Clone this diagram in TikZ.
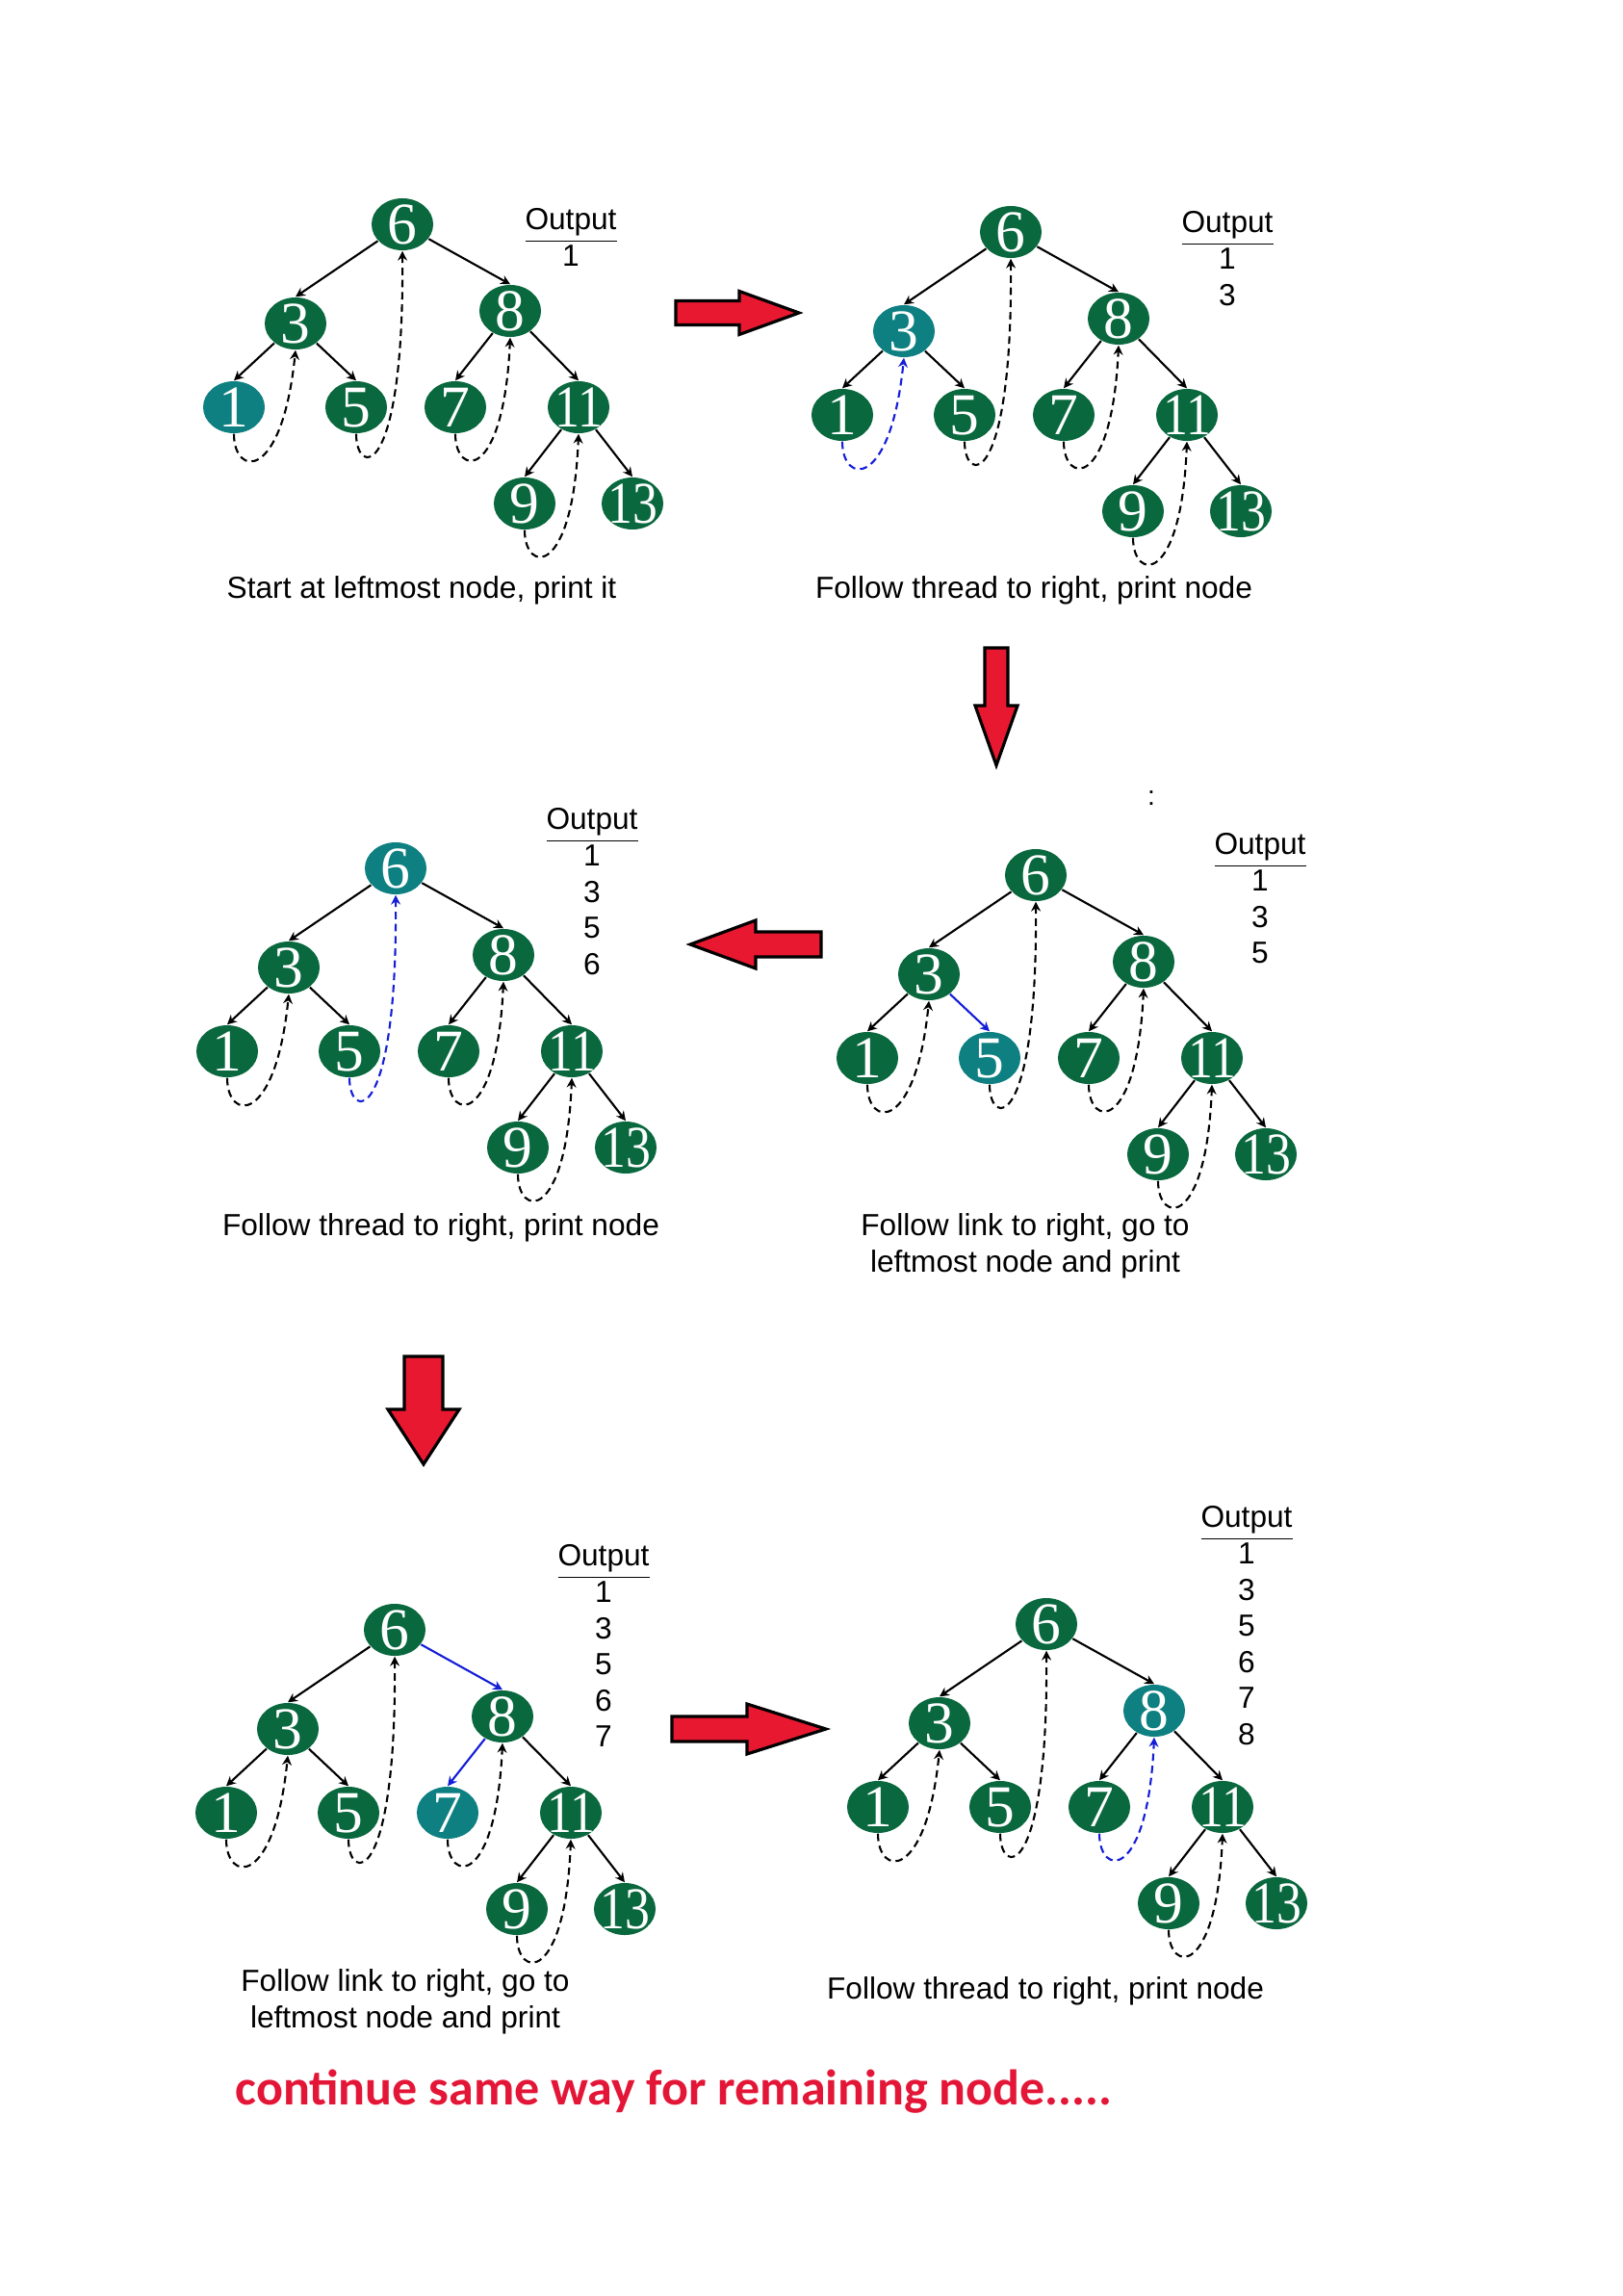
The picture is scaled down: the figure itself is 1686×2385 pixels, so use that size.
\documentclass[tikz,border=0pt]{standalone}
\usepackage{fontspec}
\usepackage{graphicx}
\setmainfont{Liberation Sans}
\newfontfamily\digitfont{Liberation Serif}
\newfontfamily\notefont{Carlito}
\usetikzlibrary{shapes.geometric,arrows.meta,calc}

\definecolor{treegreen}{RGB}{10,104,62}
\definecolor{visitteal}{RGB}{14,128,130}
\definecolor{pathblue}{RGB}{20,30,215}
\definecolor{arrowred}{RGB}{232,24,48}
\definecolor{notered}{RGB}{228,22,55}

\tikzset{
  tn/.style={ellipse, fill=treegreen, text=white, inner sep=0pt,
    minimum width=0.64cm, minimum height=0.54cm,
    font=\digitfont\fontsize{17.5}{17.5}\selectfont},
  cur/.style={fill=visitteal},
  link/.style={-{Stealth[length=2.8pt,width=2.8pt]}, line width=0.6pt},
  thread/.style={-{Stealth[length=2.8pt,width=2.8pt]}, line width=0.6pt,
    dash pattern=on 2.2pt off 1.4pt},
  hot/.style={draw=pathblue},
  outlist/.style={anchor=north, align=center, inner sep=0pt,
    font=\fontsize{9}{10.7}\selectfont},
  caption/.style={align=center, inner sep=0pt, font=\fontsize{9}{10.8}\selectfont},
  bigarrow/.style={fill=arrowred, draw=black, line width=0.9pt, line join=miter},
  % hooks for each panel, empty unless a panel sets them
  n1/.style={}, n3/.style={}, n5/.style={}, n6/.style={}, n7/.style={},
  n8/.style={}, n9/.style={}, n11/.style={}, n13/.style={},
  to1/.style={}, to3/.style={}, to5/.style={}, to7/.style={}, to8/.style={},
  to9/.style={}, to11/.style={}, to13/.style={},
  th1/.style={}, th5/.style={}, th7/.style={}, th9/.style={}
}

% key text takes no room, so every ellipse keeps the same size
\newcommand{\keytext}[1]{\makebox[0pt]{\raisebox{-5.8pt}[0pt][0pt]{#1}}}
\newcommand{\twokey}[1]{\keytext{\scalebox{0.84}[1]{#1}}}

% dashed thread from a leaf back up to its successor
\newcommand{\thread}[3]{%
  \draw[thread,#1] (#2.south) .. controls ($(#2.south)+(0,-45)$) and ($(#2.south)+(50,-50)$) .. (#3.south);}

% the threaded tree, nodes named <prefix>-<key>
\newcommand{\bstree}[1]{%
  \node[tn,n6]  (#1-6)  at (0,0)       {\keytext{6}};
  \node[tn,n3]  (#1-3)  at (-111,-103) {\keytext{3}};
  \node[tn,n8]  (#1-8)  at (112,-90)   {\keytext{8}};
  \node[tn,n1]  (#1-1)  at (-175,-190) {\keytext{1}};
  \node[tn,n5]  (#1-5)  at (-48,-190)  {\keytext{5}};
  \node[tn,n7]  (#1-7)  at (55,-190)   {\keytext{7}};
  \node[tn,n11] (#1-11) at (183,-190)  {\twokey{11}};
  \node[tn,n9]  (#1-9)  at (127,-290)  {\keytext{9}};
  \node[tn,n13] (#1-13) at (239,-290)  {\twokey{13}};
  \draw[link,to3]  (#1-6) -- (#1-3.north);
  \draw[link,to8]  (#1-6) -- (#1-8.north);
  \draw[link,to1]  (#1-3) -- (#1-1.north);
  \draw[link,to5]  (#1-3) -- (#1-5.north);
  \draw[link,to7]  (#1-8) -- (#1-7.north);
  \draw[link,to11] (#1-8) -- (#1-11.north);
  \draw[link,to9]  (#1-11) -- (#1-9.north);
  \draw[link,to13] (#1-11) -- (#1-13.north);
  \thread{th1}{#1-1}{#1-3}
  \thread{th5}{#1-5}{#1-6}
  \thread{th7}{#1-7}{#1-8}
  \thread{th9}{#1-9}{#1-11}
}

% block arrow: tail x, tail y, angle, length, half shaft, half head, head length
\newcommand{\bigarrow}[7]{%
  \draw[bigarrow, shift={(#1,#2)}, rotate=#3]
    (0,#5) -- ({#4-#7},#5) -- ({#4-#7},#6) -- (#4,0) -- ({#4-#7},-#6)
    -- ({#4-#7},-#5) -- (0,-#5) -- cycle;}

\begin{document}
\begin{tikzpicture}[x=0.01cm, y=0.01cm]
  \fill[white] (0,0) rectangle (1686,-2385);
  \useasboundingbox (0,0) rectangle (1686,-2385);

  % step 1
  \begin{scope}[shift={(418,-233)}, n1/.style={cur}]
    \bstree{a}
  \end{scope}
  \node[outlist] (outa) at (593,-216) {\underline{Output}\\1};
  \node[caption] (capa) at (438,-613) {Start at leftmost node, print it};

  % step 2
  \begin{scope}[shift={(1050,-241)}, n3/.style={cur}, th1/.style={hot}]
    \bstree{b}
  \end{scope}
  \node[outlist] (outb) at (1275,-219) {\underline{Output}\\1\\3};
  \node[caption] (capb) at (1074,-613) {Follow thread to right, print node};

  % step 3
  \begin{scope}[shift={(1076,-909)}, n5/.style={cur}, to5/.style={hot}]
    \bstree{c}
  \end{scope}
  \node[outlist] (outc) at (1309,-865) {\underline{Output}\\1\\3\\5};
  \node[caption] (capc) at (1065,-1294) {Follow link to right, go to\\leftmost node and print};
  \node[font=\fontsize{8}{8}\selectfont] (mark) at (1196,-829) {:};

  % step 4
  \begin{scope}[shift={(411,-902)}, n6/.style={cur}, th5/.style={hot}]
    \bstree{d}
  \end{scope}
  \node[outlist] (outd) at (615,-839) {\underline{Output}\\1\\3\\5\\6};
  \node[caption] (capd) at (458,-1275) {Follow thread to right, print node};

  % step 5
  \begin{scope}[shift={(410,-1693)}, n7/.style={cur}, to8/.style={hot}, to7/.style={hot}]
    \bstree{e}
  \end{scope}
  \node[outlist] (oute) at (627,-1604) {\underline{Output}\\1\\3\\5\\6\\7};
  \node[caption] (cape) at (421,-2079) {Follow link to right, go to\\leftmost node and print};

  % step 6
  \begin{scope}[shift={(1087,-1687)}, n8/.style={cur}, th7/.style={hot}]
    \bstree{f}
  \end{scope}
  \node[outlist] (outf) at (1295,-1564) {\underline{Output}\\1\\3\\5\\6\\7\\8};
  \node[caption] (capf) at (1086,-2068) {Follow thread to right, print node};

  % big arrows between the steps
  \bigarrow{702}{-325}{0}{128}{12.5}{22.5}{62}
  \bigarrow{1035}{-673}{-90}{122}{12}{22}{62}
  \bigarrow{853}{-981}{180}{136}{13}{25}{68}
  \bigarrow{440}{-1409}{-90}{112}{20}{37}{57}
  \bigarrow{698}{-1796}{0}{160}{13}{26}{82}

  \node[font=\notefont\fontsize{14.8}{17}\selectfont\bfseries, text=notered] (note)
    at (700,-2173) {continue same way for remaining node.....};
\end{tikzpicture}
\end{document}
